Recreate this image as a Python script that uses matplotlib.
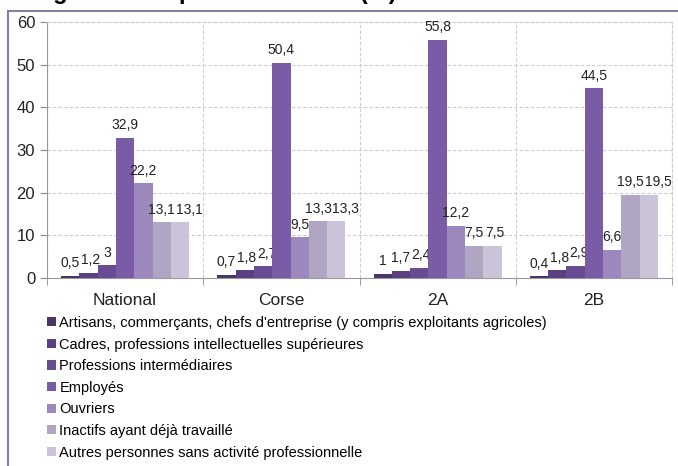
import numpy as np
import matplotlib
matplotlib.use("Agg")
import matplotlib.pyplot as plt
from matplotlib.patches import Rectangle

# ---- donnees ----
zones = ['National', 'Corse', '2A', '2B']
csp = ["Artisans, commerçants, chefs d'entreprise (y compris exploitants agricoles)",
       "Cadres, professions intellectuelles supérieures",
       "Professions intermédiaires",
       "Employés",
       "Ouvriers",
       "Inactifs ayant déjà travaillé",
       "Autres personnes sans activité professionnelle"]
artisans = [0.5, 0.7, 1, 0.4]
cadres = [1.2, 1.8, 1.7, 1.8]
prof_inter = [3, 2.7, 2.4, 2.9]
employes = [32.9, 50.4, 55.8, 44.5]
ouvriers = [22.2, 9.5, 12.2, 6.6]
inactifs = [13.1, 13.3, 7.5, 19.5]
autres = [13.1, 13.3, 7.5, 19.5]
series = [artisans, cadres, prof_inter, employes, ouvriers, inactifs, autres]

couleurs = ['#4b3668', '#5a4080', '#684c93', '#7a5ca6', '#9c88bd', '#b0a6c4', '#cbc4d8']

plt.rcParams['font.family'] = ['Liberation Sans', 'DejaVu Sans']

fig = plt.figure(figsize=(6.78, 4.66), dpi=100)
ax = fig.add_axes([47/678, 188/466, 625/678, 256/466])

x = np.arange(len(zones))
n = len(series)
larg = 0.82 / n
etiquettes = [[None] * n for _ in zones]
for i, vals in enumerate(series):
    pos = x - 0.41 + larg * (i + 0.5)
    ax.bar(pos, vals, width=larg, color=couleurs[i], label=csp[i], zorder=3)
    for j, (xp, v) in enumerate(zip(pos, vals)):
        txt = '{:g}'.format(v).replace('.', ',')
        etiquettes[j][i] = ax.annotate(txt, (xp, v), xytext=(0, 4), textcoords='offset points',
                                       ha='center', va='bottom', fontsize=10, color='#222222')

ax.set_xlim(-0.5, len(zones) - 0.5)
ax.set_ylim(0, 60)
ax.set_yticks(range(0, 61, 10))
ax.set_xticks(x)
ax.set_xticklabels(zones)
ax.set_xticks(np.arange(-0.5, len(zones)), minor=True)
ax.tick_params(axis='x', which='major', length=0, labelsize=12.5, pad=11, colors='#222222')
ax.tick_params(axis='x', which='minor', length=5, color='#888888')
ax.tick_params(axis='y', length=5, color='#888888', labelsize=12, labelcolor='#222222')
ax.grid(axis='y', ls=(0, (3, 2)), color='#cccccc', lw=0.8, zorder=0)
ax.grid(axis='x', which='minor', ls=(0, (3, 2)), color='#cccccc', lw=0.8, zorder=0)
for c in ['top', 'right']:
    ax.spines[c].set_color('#d0d0d0')
    ax.spines[c].set_linestyle((0, (3, 2)))
for c in ['left', 'bottom']:
    ax.spines[c].set_color('#999999')

# decaler a droite les etiquettes qui se chevauchent (comme dans l'original)
fig.canvas.draw()
rend = fig.canvas.get_renderer()
for groupe in etiquettes:
    for k in range(1, n):
        b0 = groupe[k - 1].get_window_extent(rend)
        b1 = groupe[k].get_window_extent(rend)
        if b1.x0 < b0.x1 and b1.y0 < b0.y1 and b1.y1 > b0.y0:
            dx = (b0.x1 - b1.x0 + 1) * 72 / fig.dpi
            ox, oy = groupe[k].xyann
            groupe[k].xyann = (ox + dx, oy)

# legende sous le graphique
fig.legend(loc='upper left', bbox_to_anchor=(47/678, 1 - 316/466), frameon=False,
           fontsize=10.5, handlelength=0.6, handleheight=0.6, handletextpad=0.25,
           labelspacing=0.52, borderaxespad=0, borderpad=0)

# cadre exterieur (coupe a droite et en bas)
fig.patches.append(Rectangle((8/678, -0.05), 1.0, 1 - 11/466 + 0.05,
                             transform=fig.transFigure, fill=False,
                             edgecolor='#8a7fa3', lw=1.5))

# titre coupe en haut de l'image : seuls les jambages depassent
fig.text(2/678, 1 + 1/466, 'Catégorie socioprofessionnelle (%)', fontsize=17,
         fontweight='bold', va='baseline', ha='left')

fig.savefig('out.png', dpi=100)
